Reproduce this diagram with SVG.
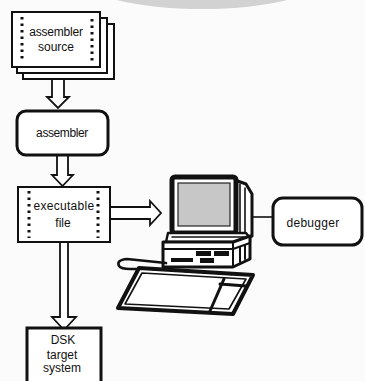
<svg xmlns="http://www.w3.org/2000/svg" width="365" height="381" viewBox="0 0 365 381">
  <style>
    .page { fill: #fff; stroke: #111; stroke-width: 2; }
    .box { fill: #fff; stroke: #111; stroke-width: 3; }
    .thin { fill: #fff; stroke: #111; stroke-width: 2; }
    .dots { fill: none; stroke: #111; stroke-width: 3; stroke-dasharray: 2.5 4; }
    .label { font-family: "Liberation Sans", Arial, sans-serif; font-size: 12px; fill: #111; text-anchor: middle; }
    .hollow { fill: #fff; stroke: #111; stroke-width: 1.8; stroke-linejoin: miter; }
    .ink { fill: none; stroke: #111; stroke-linejoin: round; stroke-linecap: round; }
  </style>

  <rect width="365" height="381" fill="#fbfbfb"/>
  <!-- soft grey arc along the top edge -->
  <ellipse cx="202" cy="-22" rx="121" ry="31" fill="#d2d2d2"/>

  <!-- connectors: hollow block arrows and the debugger link -->
  <g id="connectors">
    <path class="hollow" d="M52,80 V97 H47 L58,108 L69,97 H64 V80"/>
    <path class="hollow" d="M57,155 V175 H52 L62.5,186 L73,175 H68 V155"/>
    <path class="hollow" d="M110,207 H150 V201 L161,213 L150,225 V219 H110"/>
    <path class="hollow" d="M60,242 V317 H52 L64,330 L76,317 H68 V242"/>
    <line x1="250" y1="217" x2="273" y2="217" stroke="#111" stroke-width="1.6"/>
  </g>

  <!-- stacked source pages -->
  <g id="assembler-source">
    <rect class="page" x="23" y="24" width="91" height="55"/>
    <rect class="page" x="17" y="18" width="90" height="55"/>
    <rect class="page" x="12" y="12" width="88" height="55"/>
    <line class="dots" x1="22" y1="17" x2="22" y2="62"/>
    <line class="dots" x1="92" y1="19" x2="92" y2="62"/>
    <text class="label" x="56" y="36" font-size="12.5" letter-spacing="-0.2">assembler</text>
    <text class="label" x="56" y="51">source</text>
  </g>

  <g id="assembler">
    <rect class="box" x="17" y="111" width="91" height="44" rx="9"/>
    <text class="label" x="62" y="137" letter-spacing="-0.4">assembler</text>
  </g>

  <g id="executable-file">
    <rect class="thin" x="18" y="187" width="92" height="55"/>
    <line class="dots" x1="29" y1="191" x2="29" y2="238"/>
    <line class="dots" x1="98" y1="191" x2="98" y2="238"/>
    <text class="label" x="64" y="210" letter-spacing="0.3">executable</text>
    <text class="label" x="63" y="227">file</text>
  </g>

  <g id="dsk-target">
    <rect class="box" x="27" y="328" width="74" height="60"/>
    <text class="label" x="63" y="344" font-size="11">DSK</text>
    <text class="label" x="62" y="359" font-size="11">target</text>
    <text class="label" x="62" y="372" font-size="11">system</text>
  </g>

  <g id="debugger">
    <rect class="box" x="273" y="198" width="89" height="47" rx="10"/>
    <text class="label" x="313" y="227" letter-spacing="0.3">debugger</text>
  </g>

  <!-- workstation: monitor, system unit, cable and keyboard -->
  <g id="computer">
    <!-- monitor housing depth -->
    <path d="M232,179 L246,184 L252,194 L252,236 L238,241 L232,236 Z" fill="#fff" stroke="#111" stroke-width="3" stroke-linejoin="round"/>
    <path class="ink" stroke-width="1.6" d="M240,184 V238 M245,188 V238"/>
    <!-- monitor front frame and screen -->
    <rect x="172" y="177" width="64" height="56" rx="3" fill="#fff" stroke="#111" stroke-width="5"/>
    <rect x="178" y="183" width="52" height="43" fill="#c7c7c7" stroke="#222" stroke-width="1.2"/>
    <path class="ink" stroke="#fff" stroke-width="1" stroke-dasharray="3 9" d="M172,186 V226 M236,182 V228 M178,177 H232"/>
    <!-- base under the monitor -->
    <path d="M168,233 H246 L250,238 V242 H166 Z" fill="#fff" stroke="#111" stroke-width="2.4" stroke-linejoin="round"/>
    <path class="ink" stroke-width="1.6" d="M172,237 H244"/>
    <!-- system unit -->
    <path d="M163,242 H233 L250,236 V259 L233,267 H163 Z" fill="#fff" stroke="#111" stroke-width="3" stroke-linejoin="round"/>
    <path class="ink" stroke-width="2" d="M233,242 V267 M163,249 H233 M233,249 L250,243"/>
    <rect x="196" y="251" width="15" height="5" fill="#111"/>
    <rect x="214" y="251" width="15" height="5" fill="#111"/>
    <rect x="171" y="258" width="22" height="4" fill="#111"/>
    <rect x="200" y="258" width="14" height="5" fill="#111"/>
    <path class="ink" stroke-width="2" d="M240,247 V262 M245,245 V259"/>
    <!-- cable -->
    <path class="ink" stroke-width="2.6" d="M166,263 L127,259 Q116,260 119,266 Q121,269 130,269 L140,269"/>
    <!-- keyboard -->
    <path d="M139,268 L253,275 L233,314 L118,308 Z" fill="#fff" stroke="#111" stroke-width="4" stroke-linejoin="round"/>
    <path class="ink" stroke-width="1.6" d="M142,273 L246,279 L229,309 L125,304 Z"/>
    <path class="ink" stroke-width="3" d="M224,279 L210,311 M220,284 L246,286"/>
    <path class="ink" stroke="#fff" stroke-width="1" stroke-dasharray="3 8" d="M141,269 L250,276"/>
  </g>
</svg>
